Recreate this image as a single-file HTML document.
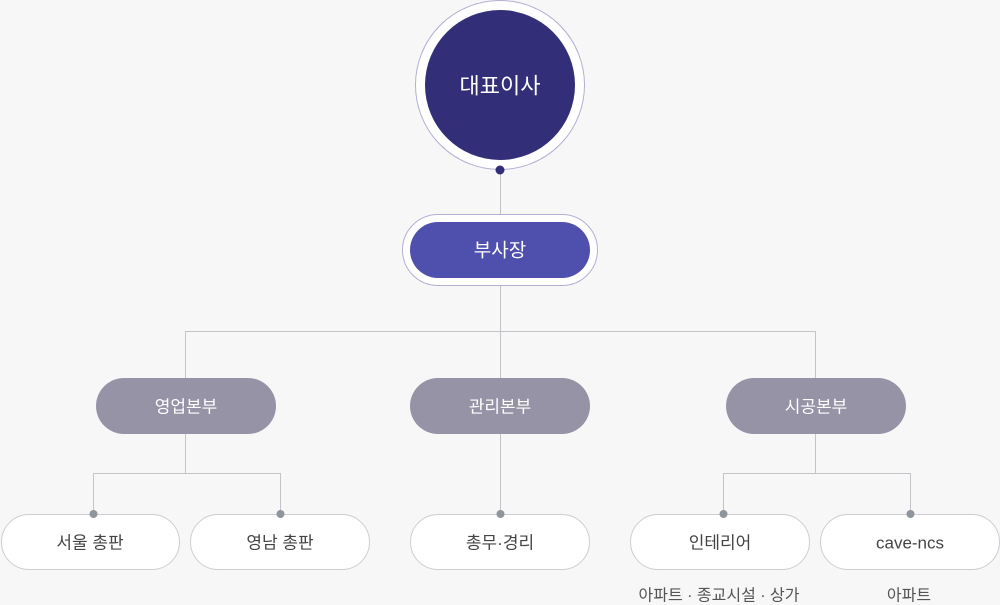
<!DOCTYPE html>
<html><head><meta charset="utf-8"><style>
html,body{margin:0;padding:0;background:#f7f7f7;}
svg{display:block;}
text{font-family:"Liberation Sans","Noto Sans CJK KR",sans-serif;text-anchor:middle;dominant-baseline:central;}
</style></head><body>
<svg width="1000" height="605" viewBox="0 0 1000 605">
<g stroke="#c4c4c8" stroke-width="1" fill="none">
<line x1="500.5" y1="170" x2="500.5" y2="215"/>
<line x1="500.5" y1="286" x2="500.5" y2="514"/>
<polyline points="185.5,378 185.5,331.5 815.5,331.5 815.5,378"/>
<line x1="185.5" y1="434" x2="185.5" y2="473"/>
<polyline points="93.5,514 93.5,473.5 280.5,473.5 280.5,514"/>
<line x1="815.5" y1="434" x2="815.5" y2="473"/>
<polyline points="723.5,514 723.5,473.5 910.5,473.5 910.5,514"/>
</g>
<circle cx="500" cy="85" r="84.5" fill="#fff" stroke="#b3afd3"/>
<circle cx="500" cy="85" r="75" fill="#332e78"/>
<text x="500" y="86" fill="#fff" font-size="22">대표이사</text>
<circle cx="500" cy="170" r="4.5" fill="#332e78"/>
<rect x="402.5" y="214.5" width="195" height="71" rx="35.5" fill="#fff" stroke="#b3afd3"/>
<rect x="410" y="222" width="180" height="56" rx="28" fill="#4f4fad"/>
<text x="500" y="251" fill="#fff" font-size="19">부사장</text>
<g fill="#9593a5">
<rect x="96" y="378" width="180" height="56" rx="28"/>
<rect x="410" y="378" width="180" height="56" rx="28"/>
<rect x="726" y="378" width="180" height="56" rx="28"/>
</g>
<g fill="#fff" font-size="17">
<text x="186" y="407">영업본부</text>
<text x="500" y="407">관리본부</text>
<text x="816" y="407">시공본부</text>
</g>
<g fill="#fff" stroke="#cdcdd2">
<rect x="1.5" y="514.5" width="178" height="55" rx="27.5"/>
<rect x="190.5" y="514.5" width="179" height="55" rx="27.5"/>
<rect x="410.5" y="514.5" width="179" height="55" rx="27.5"/>
<rect x="630.5" y="514.5" width="179" height="55" rx="27.5"/>
<rect x="820.5" y="514.5" width="179" height="55" rx="27.5"/>
</g>
<g fill="#8e959d">
<circle cx="93.5" cy="514" r="4"/><circle cx="280.5" cy="514" r="4"/>
<circle cx="500.5" cy="514" r="4"/><circle cx="723.5" cy="514" r="4"/>
<circle cx="910.5" cy="514" r="4"/>
</g>
<g fill="#444" font-size="17">
<text x="90" y="543">서울 총판</text>
<text x="280" y="543">영남 총판</text>
<text x="500" y="543">총무·경리</text>
<text x="720" y="543">인테리어</text>
<text x="910" y="543">cave-ncs</text>
</g>
<g fill="#555" font-size="16">
<text x="719" y="596">아파트 · 종교시설 · 상가</text>
<text x="909" y="596">아파트</text>
</g>
</svg>
</body></html>
